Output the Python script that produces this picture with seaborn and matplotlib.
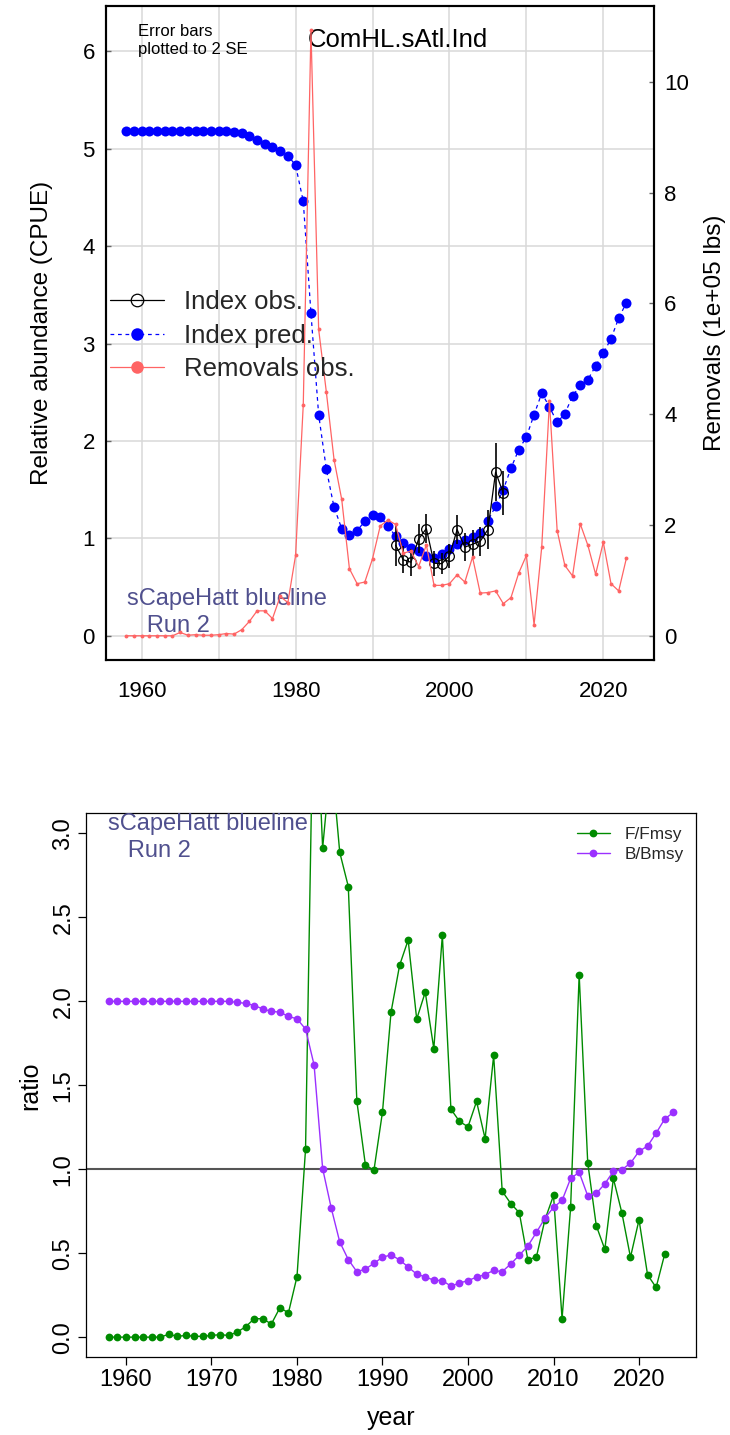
import numpy as np
import pandas as pd
import matplotlib
matplotlib.use("Agg")
import matplotlib.pyplot as plt
import seaborn as sns
from matplotlib.lines import Line2D
from matplotlib.ticker import FixedLocator, FuncFormatter

# ---------------- data ----------------
years_pred = np.arange(1958, 2024)
index_pred = [5.18, 5.18, 5.18, 5.18, 5.18, 5.18, 5.18, 5.18, 5.18, 5.18,
              5.18, 5.18, 5.18, 5.18, 5.17, 5.16, 5.13, 5.09, 5.05, 5.02,
              4.98, 4.93, 4.83, 4.46, 3.31, 2.27, 1.71, 1.32, 1.10, 1.03,
              1.08, 1.175, 1.24, 1.22, 1.13, 1.02, 0.95, 0.90, 0.87, 0.82,
              0.80, 0.84, 0.895, 0.94, 0.98, 1.01, 1.06, 1.18, 1.33, 1.50,
              1.72, 1.91, 2.04, 2.27, 2.49, 2.35, 2.19, 2.28, 2.46, 2.57,
              2.63, 2.77, 2.90, 3.05, 3.26, 3.42]

years_obs = np.arange(1993, 2008)
index_obs = [0.93, 0.78, 0.755, 0.995, 1.10, 0.745, 0.74, 0.82, 1.09, 0.91,
             0.94, 0.97, 1.09, 1.68, 1.465]
obs_2se = [0.21, 0.14, 0.14, 0.15, 0.15, 0.13, 0.11, 0.12, 0.15, 0.145,
           0.15, 0.15, 0.20, 0.30, 0.23]

years_rem = np.arange(1958, 2024)
removals = [0.0, 0.0, 0.0, 0.0, 0.0, 0.0, 0.0, 0.06, 0.01, 0.02,
            0.01, 0.01, 0.02, 0.04, 0.03, 0.11, 0.26, 0.45, 0.45, 0.31,
            0.71, 0.60, 1.45, 4.17, 10.93, 5.53, 4.40, 3.18, 2.46, 1.21,
            0.94, 0.97, 1.39, 1.98, 2.09, 2.01, 1.49, 1.53, 1.25, 1.64,
            0.91, 0.91, 0.94, 1.10, 0.97, 1.42, 0.77, 0.78, 0.81, 0.58,
            0.69, 1.13, 1.45, 0.20, 1.61, 4.23, 1.90, 1.27, 1.08, 2.02,
            1.63, 1.11, 1.69, 0.94, 0.81, 1.40]

years_f = np.arange(1958, 2024)
f_fmsy = [0.0, 0.0, 0.0, 0.0, 0.0, 0.0, 0.0, 0.017, 0.005, 0.01,
          0.005, 0.005, 0.01, 0.015, 0.01, 0.03, 0.062, 0.11, 0.11, 0.078,
          0.175, 0.145, 0.36, 1.12, 4.10, 2.913, 3.46, 2.887, 2.684, 1.405,
          1.026, 0.994, 1.342, 1.936, 2.215, 2.365, 1.894, 2.055, 1.718, 2.393,
          1.358, 1.285, 1.253, 1.404, 1.182, 1.678, 0.869, 0.796, 0.741, 0.46,
          0.478, 0.70, 0.844, 0.11, 0.773, 2.159, 1.04, 0.664, 0.523, 0.945,
          0.739, 0.476, 0.699, 0.371, 0.296, 0.494]

years_b = np.arange(1958, 2025)
b_bmsy = [2.0, 2.0, 2.0, 2.0, 2.0, 2.0, 2.0, 2.0, 2.0, 2.0,
          2.0, 2.0, 2.0, 2.0, 2.0, 1.994, 1.988, 1.975, 1.955, 1.94,
          1.936, 1.91, 1.896, 1.835, 1.621, 1.004, 0.77, 0.567, 0.462, 0.39,
          0.405, 0.44, 0.476, 0.49, 0.46, 0.418, 0.375, 0.359, 0.339, 0.337,
          0.304, 0.322, 0.337, 0.357, 0.373, 0.397, 0.39, 0.436, 0.488, 0.543,
          0.624, 0.709, 0.773, 0.814, 0.945, 0.982, 0.842, 0.856, 0.913, 0.988,
          0.998, 1.036, 1.107, 1.138, 1.215, 1.299, 1.338]

x_ticks = list(range(1960, 2030, 10))
left_ticks = [0, 1, 2, 3, 4, 5, 6]
right_ticks = [0, 2, 4, 6, 8, 10]
ratio_ticks = [0.0, 0.5, 1.0, 1.5, 2.0, 2.5, 3.0]

# ---------------- style ----------------
sns.set_theme(style="white")
plt.rcParams["font.family"] = ["Liberation Sans", "DejaVu Sans"]

BLUE = "#0000FF"
RED = "#FF6464"
GREEN = "#008B00"
PURPLE = "#9B30FF"
NOTE = "#50508E"

df_pred = pd.DataFrame({"year": years_pred, "value": index_pred})
df_obs = pd.DataFrame({"year": years_obs, "value": index_obs, "err": obs_2se})
df_rem = pd.DataFrame({"year": years_rem, "value": removals})
df_f = pd.DataFrame({"year": years_f, "value": f_fmsy})
df_b = pd.DataFrame({"year": years_b, "value": b_bmsy})

W, H = 730, 1435
fig = plt.figure(figsize=(W / 100, H / 100), dpi=100)

# x range covers 1958-2024 with 4% padding on each side
x_lo, x_hi = 1958, 2024
x_pad = 0.04 * (x_hi - x_lo)
xlim = (x_lo - x_pad, x_hi + x_pad)

# ================= top panel: index fit & removals =================
ax = fig.add_axes([106 / W, 1 - 660 / H, (654.4 - 106) / W, (660 - 6) / H])
ax2 = ax.twinx()

sns.lineplot(data=df_pred, x="year", y="value", ax=ax, color=BLUE,
             linestyle=(0, (3, 3)), linewidth=0.9, marker="o", markersize=7.2,
             markeredgecolor=BLUE, markeredgewidth=0, zorder=3)
ax.vlines(df_obs["year"], df_obs["value"] - df_obs["err"],
          df_obs["value"] + df_obs["err"], colors="black", linewidth=1.2, zorder=4)
sns.lineplot(data=df_obs, x="year", y="value", ax=ax, color="black",
             linewidth=0.9, marker="o", markersize=7, markerfacecolor="none",
             markeredgecolor="black", markeredgewidth=0.9, zorder=5)
sns.lineplot(data=df_rem, x="year", y="value", ax=ax2, color=RED,
             linewidth=0.9, marker="o", markersize=2.8, markeredgecolor=RED,
             markeredgewidth=0, zorder=3)

ymax = 1.2 * max(index_pred)
ax.set_xlim(*xlim)
ax.set_ylim(-0.04 * ymax, 1.04 * ymax)
scale = max(removals) / ymax
ax2.set_ylim(-0.04 * ymax * scale, 1.04 * ymax * scale)

ax.xaxis.set_major_locator(FixedLocator(x_ticks))
ax.xaxis.set_major_formatter(FuncFormatter(lambda v, p: f"{int(round(v))}" if int(round(v)) % 20 == 0 else ""))
ax.yaxis.set_major_locator(FixedLocator(left_ticks))
ax.yaxis.set_major_formatter(FuncFormatter(lambda v, p: f"{int(round(v))}"))
ax2.yaxis.set_major_locator(FixedLocator(right_ticks))
ax2.yaxis.set_major_formatter(FuncFormatter(lambda v, p: f"{int(round(v))}"))

ax.grid(True, color="#D8D8D8", linewidth=1.1)
ax.set_axisbelow(True)
ax.tick_params(axis="x", direction="in", length=3.5, width=1, color="#666666",
               labelsize=16, pad=15, labelcolor="black")
ax.tick_params(axis="y", direction="in", length=3.5, width=1, color="#666666",
               labelsize=16, pad=8, labelcolor="black", left=True)
ax2.tick_params(axis="y", direction="in", length=3.5, width=1, color="#666666",
                labelsize=16, pad=7, labelcolor="black", right=True)
for a in (ax, ax2):
    for s in a.spines.values():
        s.set_color("black")
        s.set_linewidth(1.5)

ax.set_xlabel("")
ax.set_ylabel("Relative abundance (CPUE)", fontsize=17.5, color="black")
ax.yaxis.set_label_coords(-0.097, 0.5)
ax2.set_ylabel("Removals (1e+05 lbs)", fontsize=17.5, color="black", rotation=90)
ax2.yaxis.set_label_coords(1.09, 0.5)

ax.text(0.0584, 0.973, "Error bars\nplotted to 2 SE", transform=ax.transAxes,
        fontsize=12, ha="left", va="top", linespacing=1.3, color="black")
ax.text(0.532, 0.948, "ComHL.sAtl.Ind", transform=ax.transAxes,
        fontsize=18.5, ha="center", va="center", color="black")
ax.text(0.0388, 0.0841, "sCapeHatt blueline", transform=ax.transAxes,
        fontsize=17, ha="left", va="baseline", color=NOTE)
ax.text(0.0388, 0.0428, "   Run 2", transform=ax.transAxes,
        fontsize=17, ha="left", va="baseline", color=NOTE)

top_handles = [
    Line2D([], [], color="black", linewidth=0.9, marker="o", markersize=9,
           markerfacecolor="none", markeredgecolor="black", markeredgewidth=0.9),
    Line2D([], [], color=BLUE, linewidth=0.9, linestyle=(0, (3, 3)), marker="o",
           markersize=9, markerfacecolor=BLUE, markeredgewidth=0),
    Line2D([], [], color=RED, linewidth=0.9, marker="o", markersize=9,
           markerfacecolor=RED, markeredgewidth=0),
]
ax2.legend(top_handles, ["Index obs.", "Index pred.", "Removals obs."],
           loc="upper left", bbox_to_anchor=(0.008, 0.566), frameon=False,
           fontsize=18.5, handlelength=2.1, handletextpad=0.75,
           labelspacing=0.38, borderpad=0, borderaxespad=0)

# ================= bottom panel: F/Fmsy and B/Bmsy =================
axb = fig.add_axes([86.3 / W, 1 - 1357.3 / H, (695.8 - 86.3) / W, (1357.3 - 813.3) / H])
axb.axhline(1.0, color="#555555", linewidth=1.5, zorder=1)
sns.lineplot(data=df_f, x="year", y="value", ax=axb, color=GREEN, linewidth=1.0,
             marker="o", markersize=5.6, markeredgecolor=GREEN,
             markeredgewidth=0, label="F/Fmsy", zorder=3)
sns.lineplot(data=df_b, x="year", y="value", ax=axb, color=PURPLE, linewidth=1.0,
             marker="o", markersize=5.6, markeredgecolor=PURPLE,
             markeredgewidth=0, label="B/Bmsy", zorder=4)

axb.set_xlim(*xlim)
axb.set_ylim(-0.12, 3.12)
axb.xaxis.set_major_locator(FixedLocator(x_ticks))
axb.xaxis.set_major_formatter(FuncFormatter(lambda v, p: f"{int(round(v))}"))
axb.yaxis.set_major_locator(FixedLocator(ratio_ticks))
axb.yaxis.set_major_formatter(FuncFormatter(lambda v, p: f"{v:.1f}"))
axb.tick_params(axis="both", direction="out", length=5.5, width=0.9,
                color="black", labelsize=17, labelcolor="black",
                bottom=True, left=True)
axb.tick_params(axis="x", pad=3)
axb.tick_params(axis="y", pad=3)
for lab in axb.get_yticklabels():
    lab.set_rotation(90)
    lab.set_va("center")
for s in axb.spines.values():
    s.set_color("black")
    s.set_linewidth(0.9)

axb.set_xlabel("year", fontsize=18, color="black")
axb.xaxis.set_label_coords(0.5, -0.09)
axb.set_ylabel("ratio", fontsize=18, color="black")
axb.yaxis.set_label_coords(-0.072, 0.5)

axb.text(0.0361, 0.9693, "sCapeHatt blueline", transform=axb.transAxes,
         fontsize=17, ha="left", va="baseline", color=NOTE)
axb.text(0.0361, 0.920, "   Run 2", transform=axb.transAxes,
         fontsize=17, ha="left", va="baseline", color=NOTE)

axb.legend(loc="upper right", bbox_to_anchor=(0.981, 0.975),
           frameon=False, fontsize=12.4, handlelength=1.9,
           handletextpad=0.9, labelspacing=0.3, borderpad=0,
           borderaxespad=0)

fig.savefig("out.png", dpi=100, facecolor="white")
